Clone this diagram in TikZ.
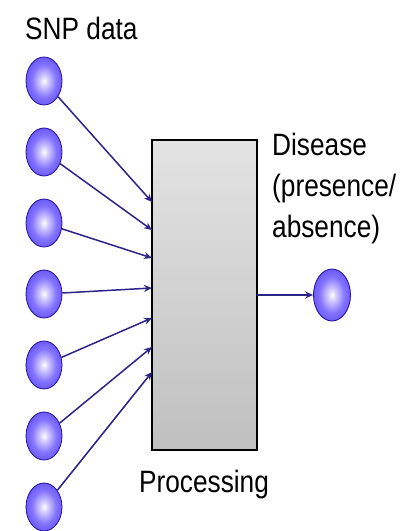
\documentclass[tikz,border=0pt]{standalone}
\usepackage{fontspec}
\setmainfont{Liberation Sans}
\usetikzlibrary{arrows.meta,shapes.geometric}
\usepackage{xcolor}
\definecolor{snplight}{HTML}{D8D0FF}
\definecolor{snpsoft}{HTML}{8474FF}
\definecolor{snpmid}{HTML}{5A48F0}
\definecolor{snpdark}{HTML}{3826D6}
\definecolor{snpedge}{HTML}{20109C}
\definecolor{wire}{HTML}{2C2488}
\pgfdeclareradialshading{snpball}{\pgfpoint{0bp}{0bp}}{color(0bp)=(white);color(5bp)=(snplight);color(17bp)=(snpsoft);color(31bp)=(snpmid);color(43bp)=(snpdark);color(50bp)=(snpedge)}

\begin{document}
\begin{tikzpicture}[x=1bp,y=-1bp,>={Stealth[length=8bp,width=7bp]},
  ball/.style={ellipse,inner sep=0pt,minimum width=36bp,minimum height=48bp,shading=snpball,draw=snpedge,line width=0.8bp},
  wirearrow/.style={->,draw=wire,line width=1.5bp},
  lbl/.style={inner sep=0pt,xscale=0.85,font=\fontsize{31}{41}\selectfont}]
\useasboundingbox[fill=white] (0,0) rectangle (406,531);
% processing box
\draw[line width=2.6bp,top color=gray!22,bottom color=gray!50] (152,140) rectangle (257,450);
\coordinate (proc) at (152,140);
\coordinate (procout) at (257,295);
% inputs
\foreach \i/\y/\t in {1/81/202,2/152/230,3/223/258,4/294/288,5/365/318,6/436/347,7/507/372}{
  \node[ball] (in\i) at (44,\y) {};
  \coordinate (t\i) at (152,\t);
  \draw[wirearrow] (in\i) -- (t\i);
}
% output
\node[ball,minimum width=37bp,minimum height=52bp] (out) at (332,295) {};
\draw[wirearrow] (procout) -- (out);
% labels
\node[lbl,anchor=base west] (snp) at (25,40) {SNP data};
\node[lbl,anchor=north west,align=left] (dis) at (272,133) {Disease\\(presence/\\absence)};
\node[lbl,anchor=base] (proclbl) at (204,492) {Processing};
\end{tikzpicture}
\end{document}
